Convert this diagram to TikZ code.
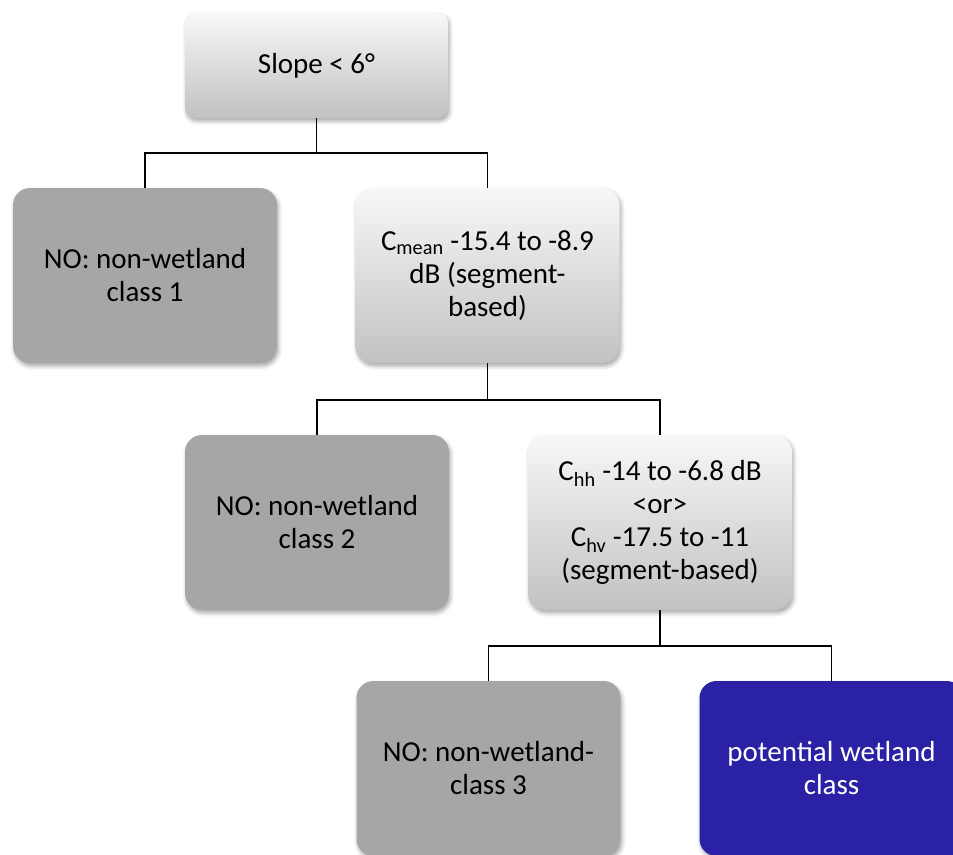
\documentclass[tikz,border=0pt]{standalone}
\usepackage{fontspec}
\setmainfont{Carlito}
\usetikzlibrary{shadows.blur}
\definecolor{boxgray}{RGB}{166,166,166}
\definecolor{wetblue}{RGB}{43,33,165}
\begin{document}
\begin{tikzpicture}[x=1pt, y=-1pt,
  every node/.style={inner sep=0pt, align=center, font=\fontsize{29}{33}\selectfont},
  boxbase/.style={rounded corners=17pt, minimum width=264pt, minimum height=175pt,
    blur shadow={shadow xshift=1.5pt, shadow yshift=-3pt, shadow blur radius=4pt, shadow opacity=35}},
  testbox/.style={boxbase, top color=black!3, bottom color=black!24},
  nobox/.style={boxbase, fill=boxgray},
  endbox/.style={boxbase, fill=wetblue, text=white},
  link/.style={line width=1.8pt, black}]
\clip (0,0) rectangle (953,854);

% decision and leaf boxes
\node[testbox, rounded corners=10pt, minimum height=105pt, minimum width=263pt] (slope) at (316.5,65.5) {Slope < 6°};
\node[nobox] (no1) at (145,275.5) {NO: non-wetland\\class 1};
\node[testbox] (cmean) at (487.5,275.5) {C\textsubscript{mean} -15.4 to -8.9\\dB (segment-\\based)};
\node[nobox] (no2) at (317,522.5) {NO: non-wetland\\class 2};
\node[testbox] (chh) at (660,522.5) {C\textsubscript{hh} -14 to -6.8 dB\\<or>\\C\textsubscript{hv} -17.5 to -11\\(segment-based)};
\node[nobox] (no3) at (488.5,768.5) {NO: non-wetland-\\class 3};
\node[endbox] (wet) at (831.5,768.5) {potential wetland\\class};

% branching points
\coordinate (j1) at (316.5,153);
\coordinate (j2) at (487.5,400);
\coordinate (j3) at (660,646);

% tree connectors
\draw[link] (slope.south) -- (j1);
\draw[link] (no1.north) |- (j1) -| (cmean.north);
\draw[link] (cmean.south) -- (j2);
\draw[link] (no2.north) |- (j2) -| (chh.north);
\draw[link] (chh.south) -- (j3);
\draw[link] (no3.north) |- (j3) -| (wet.north);
\end{tikzpicture}
\end{document}
